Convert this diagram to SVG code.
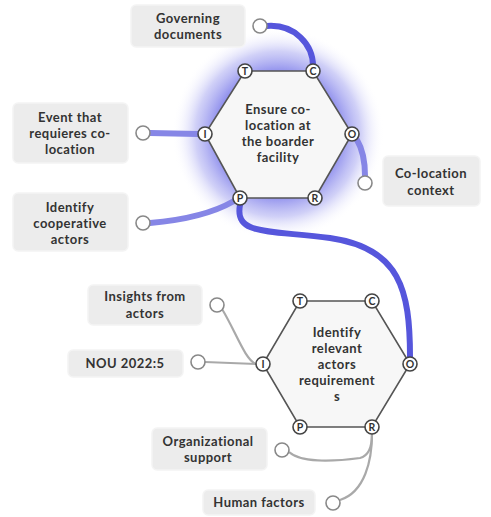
<svg xmlns="http://www.w3.org/2000/svg" width="491" height="517" viewBox="0 0 491 517">
<defs>
<radialGradient id="glow" cx="278" cy="134" r="106" gradientUnits="userSpaceOnUse">
<stop offset="0" stop-color="#6a6ae6" stop-opacity="1"/>
<stop offset="0.55" stop-color="#7272e8" stop-opacity="0.9"/>
<stop offset="0.78" stop-color="#aaaaf1" stop-opacity="0.55"/>
<stop offset="1" stop-color="#ffffff" stop-opacity="0"/>
</radialGradient>
</defs>
<style>
.box{fill:#ececec;stroke:#f4f4f4;stroke-width:1.5}
.lbl{font-family:Lato,"Open Sans",sans-serif;font-size:13px;font-weight:700;letter-spacing:0.45px;fill:#333;text-anchor:middle}
.hex{fill:#f7f7f7;stroke:#555;stroke-width:1.6}
.port{fill:#fff;stroke:#444;stroke-width:1.6}
.pl{font-family:Lato,"Open Sans",sans-serif;font-size:10.5px;font-weight:700;fill:#333;text-anchor:middle}
.end{fill:#fff;stroke:#888;stroke-width:1.6}
.blue{fill:none;stroke:#5656dc;stroke-width:6;stroke-linecap:round}
.lblue{fill:none;stroke:#8686e6;stroke-width:6;stroke-linecap:round}
.gray{fill:none;stroke:#a9a9a9;stroke-width:2.2}
</style>
<rect width="491" height="517" fill="#fff"/>
<circle cx="278" cy="134" r="106" fill="url(#glow)"/>
<g id="connectors">
<path class="blue" d="M267,26 C295,24 313,45 313,66"/>
<path class="lblue" d="M150,133 L198,134"/>
<path class="lblue" d="M150,223 C185,220 215,212 234,201"/>
<path class="lblue" d="M357,140 C363,150 365,160 365,176"/>
<path class="blue" d="M240,205 C234,236 270,230 330,238 C400,248 410,290 410,357"/>
<path class="gray" d="M222,309 C235,330 245,360 256,364"/>
<path class="gray" d="M205,362 L256,364"/>
<path class="gray" d="M289,452 C300,462 330,462 360,458 C372,455 372,440 372,434"/>
<path class="gray" d="M340,500 C365,492 372,460 372,434"/>
</g>
<g id="governing">
<rect class="box" x="131" y="5" width="114" height="42" rx="5"/>
<text class="lbl" x="188" y="23">Governing</text>
<text class="lbl" x="188" y="39">documents</text>
<circle class="end" cx="260" cy="26" r="7"/>
</g>
<g id="event">
<rect class="box" x="13" y="103" width="115" height="60" rx="5"/>
<text class="lbl" x="70" y="122">Event that</text>
<text class="lbl" x="70" y="138">requieres co-</text>
<text class="lbl" x="70" y="154">location</text>
<circle class="end" cx="143" cy="133" r="7"/>
</g>
<g id="cooperative">
<rect class="box" x="13" y="193" width="115" height="58" rx="5"/>
<text class="lbl" x="70" y="212">Identify</text>
<text class="lbl" x="70" y="228">cooperative</text>
<text class="lbl" x="70" y="244">actors</text>
<circle class="end" cx="143" cy="223" r="7"/>
</g>
<g id="context">
<rect class="box" x="383" y="156" width="97" height="50" rx="5"/>
<text class="lbl" x="431" y="178">Co-location</text>
<text class="lbl" x="431" y="195">context</text>
<circle class="end" cx="365" cy="183" r="7"/>
</g>
<g id="ensure">
<polygon class="hex" points="245,71 313,71 352,134 315,198 240,198 205,134"/>
<text class="lbl" x="278" y="114">Ensure co-</text>
<text class="lbl" x="278" y="130">location at</text>
<text class="lbl" x="278" y="146">the boarder</text>
<text class="lbl" x="278" y="162">facility</text>
<circle class="port" cx="245" cy="71" r="7"/><text class="pl" x="245" y="74.5">T</text>
<circle class="port" cx="313" cy="71" r="7"/><text class="pl" x="313" y="74.5">C</text>
<circle class="port" cx="205" cy="134" r="7"/><text class="pl" x="205" y="137.5">I</text>
<circle class="port" cx="352" cy="134" r="7"/><text class="pl" x="352" y="137.5">O</text>
<circle class="port" cx="240" cy="198" r="7"/><text class="pl" x="240" y="201.5">P</text>
<circle class="port" cx="315" cy="198" r="7"/><text class="pl" x="315" y="201.5">R</text>
</g>
<g id="insights">
<rect class="box" x="88" y="285" width="114" height="40" rx="5"/>
<text class="lbl" x="145" y="301">Insights from</text>
<text class="lbl" x="145" y="318">actors</text>
<circle class="end" cx="217" cy="305" r="7"/>
</g>
<g id="nou">
<rect class="box" x="68" y="350" width="115" height="27" rx="5"/>
<text class="lbl" x="125" y="368">NOU 2022:5</text>
<circle class="end" cx="198" cy="362" r="7"/>
</g>
<g id="organizational">
<rect class="box" x="152" y="428" width="115" height="42" rx="5"/>
<text class="lbl" x="208" y="446">Organizational</text>
<text class="lbl" x="208" y="462">support</text>
<circle class="end" cx="282" cy="450" r="7"/>
</g>
<g id="human">
<rect class="box" x="203" y="490" width="112" height="25" rx="5"/>
<text class="lbl" x="259" y="507">Human factors</text>
<circle class="end" cx="333" cy="503" r="7"/>
</g>
<g id="identify">
<polygon class="hex" points="300,301 372,301 410,364 372,427 300,427 263,364"/>
<text class="lbl" x="337" y="337">Identify</text>
<text class="lbl" x="337" y="353">relevant</text>
<text class="lbl" x="337" y="369">actors</text>
<text class="lbl" x="337" y="385">requirement</text>
<text class="lbl" x="337" y="401">s</text>
<circle class="port" cx="300" cy="301" r="7"/><text class="pl" x="300" y="304.5">T</text>
<circle class="port" cx="372" cy="301" r="7"/><text class="pl" x="372" y="304.5">C</text>
<circle class="port" cx="263" cy="364" r="7"/><text class="pl" x="263" y="367.5">I</text>
<circle class="port" cx="410" cy="364" r="7"/><text class="pl" x="410" y="367.5">O</text>
<circle class="port" cx="300" cy="427" r="7"/><text class="pl" x="300" y="430.5">P</text>
<circle class="port" cx="372" cy="427" r="7"/><text class="pl" x="372" y="430.5">R</text>
</g>
</svg>
